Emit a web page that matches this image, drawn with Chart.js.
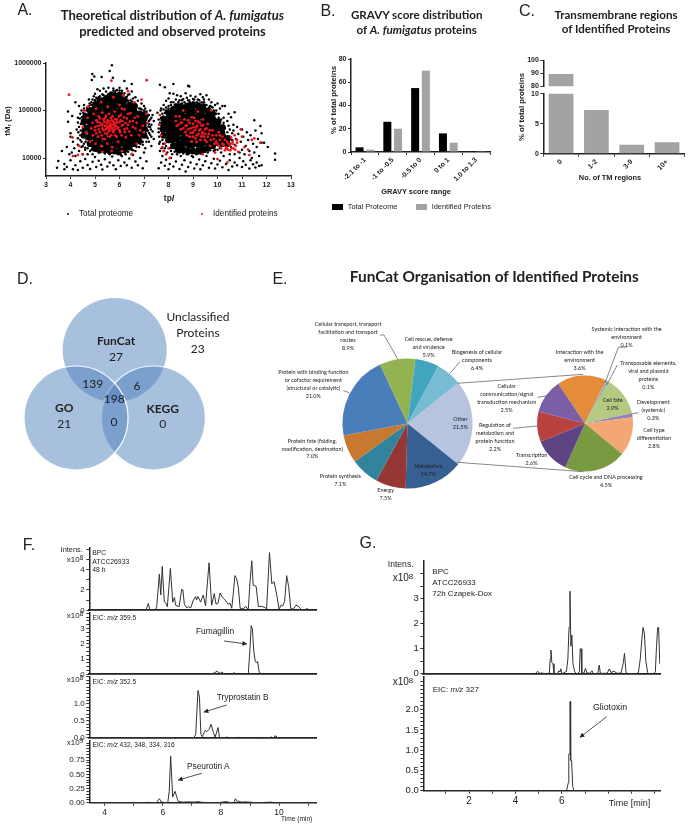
<!DOCTYPE html>
<html><head><meta charset="utf-8">
<script src="https://cdn.jsdelivr.net/npm/chart.js@4"></script>
<style>
html,body{margin:0;padding:0;background:#fff;overflow:hidden}
#page{position:relative;width:689px;height:827px;overflow:hidden;filter:blur(.4px)}
canvas{position:absolute}
.t{position:absolute;white-space:nowrap;transform:translate(-50%,-50%);color:#222;line-height:1}
.l{transform:translate(0,-50%)}
.r90{transform:translate(-50%,-50%) rotate(-90deg)}
sup{font-size:.8em;line-height:0;vertical-align:.3em}
sub{font-size:.7em;line-height:0;vertical-align:-.15em}
</style></head><body><div id="page"></div>
<script>
/* ---------- A: pI (isoelectric point) and Mr in kDa ---------- */
const identifiedProteins = [
[3.94,215],[7.11,435],[5.67,425],[4.08,27],[4.1,11],[4.3,11.5],[4.35,18],[4.5,12],[4.5,45],[4.55,100],[4.65,33],[4.7,70],[4.72,120],[4.8,22],[4.85,42],[4.9,55],[4.92,30],[4.95,85],[5,38],[5.02,20],[5.05,62],[5.05,110],[5.1,47],[5.12,28],[5.15,75],[5.2,35],[5.2,55],[5.25,150],[5.25,18],[5.3,42],[5.3,90],[5.32,25],[5.35,65],[5.4,48],[5.42,33],[5.45,40],[5.45,78],[5.48,55],[5.5,20],[5.5,44],[5.52,120],[5.55,36],[5.55,60],[5.58,47],[5.6,52],[5.6,28],[5.62,42],[5.65,70],[5.68,14],[5.7,50],[5.72,38],[5.75,58],[5.75,190],[5.8,46],[5.8,95],[5.82,30],[5.85,54],[5.9,65],[5.92,42],[5.95,22],[6,56],[6,130],[6.02,35],[6.05,80],[6.1,48],[6.12,60],[6.15,210],[6.2,40],[6.2,105],[6.25,27],[6.3,68],[6.35,255],[6.35,50],[6.4,36],[6.45,88],[6.5,12],[6.55,60],[6.6,150],[6.65,42],[6.7,20],[6.75,75],[6.85,38],[6.9,170],[7,35],[7.1,85],[7.15,55],
[7.62,50],[7.65,80],[7.7,30],[7.75,17],[7.8,14],[7.85,20],[7.9,12],[8,16],[8.05,10],[8.3,60],[8.4,50],[8.45,75],[8.5,40],[8.55,55],[8.6,100],[8.7,35],[8.75,48],[8.8,62],[8.85,28],[8.9,42],[8.95,22],[9,52],[9,34],[9.05,70],[9.1,26],[9.12,44],[9.15,30],[9.2,58],[9.2,95],[9.25,38],[9.3,24],[9.35,48],[9.38,32],[9.4,65],[9.45,28],[9.5,40],[9.55,22],[9.6,52],[9.65,32],[9.7,18],[9.75,100],[9.8,38],[9.85,25],[9.9,13],[9.95,30],[10,20],[10,9.5],[10.05,35],[10.1,24],[10.15,16],[10.2,28],[10.25,19],[10.3,14.5],[10.35,17],[10.4,22],[10.42,15],[10.5,18],[10.52,14.5],[10.55,27],[10.6,20],[10.65,16],[10.7,30],[10.75,18],[10.8,21],[10.85,13.5],[10.95,40],[11,28],[11.1,17],[11.25,15],[11.3,11.5],[11.4,24],[11.5,26],[11.75,21],[10.4,8],[9.4,12],[6.1,14],[5.7,17],[5.3,13.5],
[5,45],[5.05,33],[5.1,58],[5.15,40],[5.2,68],[5.22,48],[5.28,30],[5.3,52],[5.35,38],[5.38,58],[5.4,25],[5.42,70],[5.46,48],[5.5,32],[5.52,62],[5.55,42],[5.58,85],[5.6,38],[5.62,55],[5.65,48],[5.66,30],[5.68,62],[5.7,43],[5.72,75],[5.75,35],[5.78,52],[5.8,40],[5.82,66],[5.85,47],[5.88,28],[5.9,58],[5.95,44],[5.98,75],[6,38],[6.05,62],[6.08,30],[6.1,110],[6.15,50],[6.18,72],[6.22,35],[6.25,55],[6.3,42],[6.35,85],[6.42,58],[6.48,30],[6.55,45],[6.62,70],[6.7,55],[6.8,30],[6.95,48],
[8.5,55],[8.6,42],[8.65,65],[8.7,48],[8.75,30],[8.8,40],[8.85,55],[8.9,34],[8.95,72],[9,28],[9.02,44],[9.08,38],[9.1,60],[9.15,22],[9.18,48],[9.22,32],[9.28,55],[9.3,40],[9.35,28],[9.4,35],[9.42,50],[9.48,24],[9.5,32],[9.55,42],[9.6,28],[9.68,38],[9.72,24],[9.8,30],[9.88,20],[9.95,22],[10.05,18],[10.1,30],[10.2,20],[10.3,24],[10.38,16],[10.45,20],[10.58,16],[10.62,22],[10.72,15],[10.8,24],[8.3,75],[8.35,48]
];
const totalProteome = [
[5.69,895],[4.89,585],[4.97,520],[4.87,440],[5.27,510],[5.6,680],[5.73,490],[6.2,420],[6.5,360],[7.65,350],[7.85,310],[8.2,360],[8.8,330],[8.85,320],
[3.45,6.2],[3.5,8.7],[3.65,14],[3.75,5.8],[3.75,7.5],[3.85,6.5],[3.85,17],[3.9,58],[3.9,95],[3.95,12],[4,9],[4,28],[4,33],[4.05,13],[4.07,77],[4.1,22],[4.15,16],[4.2,150],[4.2,11],[4.25,40],[4.3,19],[4.3,70],[4.35,125],[4.35,14],[4.4,30],[4.4,24],[4.45,100],[4.5,12],[4.45,17],[4.5,55],[4.55,20],[4.55,130],[4.6,15],[4.6,85],[4.65,25],[4.7,12],[4.7,110],[4.75,170],[4.8,14],[4.85,130],[4.9,12],[4.9,170],[4.95,200],[5,225],[5.05,14],[5.1,150],[5.1,280],[5.15,190],[5.2,260],[5.2,13],[5.3,170],[5.3,220],[5.35,290],[5.4,12.5],[5.4,190],[5.45,250],[5.5,160],[5.55,210],[5.55,300],[5.6,12],[5.65,240],[5.7,180],[5.75,290],[5.8,220],[5.85,260],[5.9,190],[5.95,12],[6,240],[6,300],[6.05,200],[6.1,260],[6.15,170],[6.2,230],[6.25,12],[6.3,195],[6.3,290],[6.35,160],[6.4,220],[6.45,140],[6.5,250],[6.5,15],[6.55,180],[6.6,130],[6.65,14],[6.65,190],[6.7,120],[6.75,160],[6.8,17],[6.85,110],[6.9,140],[6.95,19],[7,100],[7,125],[7.05,16],[7.1,22],[7.15,26],[7.2,80],[7.2,60],[7.2,34],[7.25,45],[7.25,100],[7.3,28],[7.3,70],[7.3,18],
[4.1,5.8],[4.2,7],[4.3,5.6],[4.4,8.5],[4.5,6.2],[4.6,9.5],[4.7,7.1],[4.8,5.9],[4.9,8.3],[5,10.5],[5.05,6.5],[5.15,8.8],[5.25,7.2],[5.3,5.7],[5.4,9.4],[5.5,6.6],[5.6,8],[5.7,10.8],[5.75,7],[5.85,5.8],[5.95,9],[6.05,6.8],[6.1,11],[6.2,8],[6.3,7],[6.4,9.8],[6.5,6.2],[6.55,11.5],[6.65,8.4],[6.75,7],[6.85,10],[6.95,6.1],[7,13],[7.1,8.5],[7.6,6.1],[7.7,8],[7.75,11],[7.85,6.9],[7.9,9.2],[8,5.8],[8.05,7.5],[8.1,10],[8.2,6.6],[8.3,8.4],[8.35,12],[8.45,5.9],[8.55,7.2],[8.65,9],[8.7,5.2],[8.8,6.5],[8.9,8],[9,10.5],[9.05,6],[9.15,7.4],[9.25,9.3],[9.3,5.8],[9.4,7],[9.5,8.5],[9.55,11],[9.65,6.2],[9.75,7.8],[9.85,9.6],[9.9,6],[10,7.3],[10.1,8.8],[10.2,6.4],[10.25,11],[10.35,7.5],[10.45,5.6],[10.5,9],[10.6,6.6],[10.7,8],[10.8,7],[10.9,10],[11,6.5],[11.05,8.5],[11.15,7.2],[11.3,6],[11.35,9],[11.45,7.4],[11.55,6.3],[11.6,8],[11.7,6.8],[11.8,7],
[7.55,90],[7.6,35],[7.6,65],[7.62,20],[7.65,14],[7.7,110],[7.7,48],[7.75,24],[7.8,130],[7.8,75],[7.85,16],[7.9,160],[7.9,100],[7.95,13],[8,125],[8,180],[8.05,230],[8.1,150],[8.15,12],[8.2,225],[8.25,130],[8.3,170],[8.35,210],[8.4,120],[8.45,165],[8.5,11],[8.5,200],[8.55,140],[8.6,175],[8.65,120],[8.7,230],[8.75,12],[8.8,165],[8.85,140],[8.9,205],[8.95,11],[9,175],[9.05,145],[9.1,195],[9.15,12],[9.2,170],[9.25,140],[9.3,220],[9.35,12.5],[9.4,190],[9.45,150],[9.5,130],[9.55,210],[9.6,13],[9.65,170],[9.7,125],[9.75,150],[9.8,115],[9.85,14],[9.9,130],[9.95,100],[10,15],[10,140],[10.05,85],[10.1,110],[10.15,13],[10.2,125],[10.25,70],[10.3,125],[10.35,16],[10.4,60],[10.45,85],[10.5,40],[10.5,12],[10.55,72],[10.6,33],[10.65,50],[10.7,92],[10.7,12],[10.75,25],[10.8,45],[10.85,32],[10.9,13],[10.95,22],[11,40],[11,15],[11.05,28],[11.1,12],[11.15,18],[11.2,35],[11.25,24],[11.3,14],[11.35,30],[11.4,10],[11.45,20],[11.5,62],[11.5,13],[11.55,38],[11.6,17],[11.65,25],[11.7,11],[11.75,47],[11.8,21],[11.8,33],[11.9,21],[12.05,17],[12.35,12.5],[12.35,9.2],
[4.3,26],[4.32,35],[4.35,45],[4.3,56],[4.38,68],[4.4,85],[4.42,38],[4.45,22],[4.42,52],[4.48,28],[4.47,72],[4.5,18],[4.5,36],[4.52,90],[4.55,110],[4.6,16.5],[4.62,22],[4.65,100],[4.68,115],[4.7,16],[4.72,19],[4.75,125],[4.78,140],[4.85,15],[4.9,16],[4.85,150],[4.92,120],[4.95,14.5],
[5,165],[5.05,185],[5.1,175],[5.15,13],[5.2,200],[5.25,180],[5.3,140],[5.35,210],[5.4,175],[5.45,200],[5.5,14],[5.5,190],[5.55,170],[5.6,230],[5.65,13],[5.7,230],[5.7,155],[5.75,260],[5.8,240],[5.85,190],[5.9,270],[5.9,12.5],[5.95,230],[6,265],[6.05,11.5],[6.1,230],[6.1,185],[6.15,210],[6.2,13],[6.25,190],[6.3,165],[6.35,13.5],[6.35,215],[6.45,165],[6.5,155],[6.55,14.5],[6.55,135],[6.65,140],[6.7,17],[6.7,130],[6.8,110],[6.85,20],[6.9,105],[6.95,22],
[7.05,110],[7.1,95],[7.1,68],[7.12,28],[7.15,75],[7.15,38],[7.18,46],[7.2,22],[7.2,52],[7.25,31],[7.25,65],[7.28,40],[7.3,50],[7.35,36],[7.35,80],[7.4,60],[7.4,25],
[7.6,42],[7.62,28],[7.65,55],[7.65,22],[7.68,100],[7.7,38],[7.7,70],[7.72,16],[7.75,30],[7.75,85],[7.78,20],[7.8,105],[7.82,14],[7.85,90],[7.9,115],[7.9,18],[7.95,22],[8,110],[8.05,16],[8.1,130],[8.1,14],[8.15,115],[8.2,150],[8.25,13.5],[8.3,135],[8.35,110],[8.4,150],[8.45,13],[8.5,135],[8.55,165],[8.6,12.5],[8.65,150],[8.7,135],[8.75,185],[8.8,12],[8.85,160],[8.9,145],[8.95,13],[9,150],[9.05,170],[9.1,12.5],[9.15,150],[9.25,165],[9.3,12.5],[9.35,150],[9.45,170],[9.5,13.5],[9.55,130],[9.65,115],[9.7,14.5],[9.75,120],[9.85,100],[9.9,15],[9.95,85],[10.05,70],[10.1,16],[10.15,65],[10.25,55],[10.3,30],[10.3,42],[10.35,22],[10.4,35],[10.45,48],[10.5,28],[10.55,17],[10.6,24],[10.65,38],[10.7,19]
];
/* the almost solid middle of the two clouds */
const totalDenseFirst = [
[4.55,30],[4.6,42],[4.55,58],[4.62,75],[4.8,20],[4.78,27],[4.82,35],[4.8,46],[4.77,60],[4.82,78],[4.8,100],
[5,16],[5.02,21],[4.98,28],[5.03,36],[5,47],[4.97,62],[5.02,80],[5,105],[5.02,135],
[5.2,15],[5.18,20],[5.22,26],[5.2,34],[5.17,44],[5.22,57],[5.2,74],[5.18,96],[5.22,125],[5.2,155],
[5.4,15],[5.42,20],[5.38,26],[5.4,34],[5.43,44],[5.4,57],[5.38,74],[5.42,96],[5.4,125],[5.4,165],
[5.6,14],[5.58,19],[5.62,25],[5.6,33],[5.58,43],[5.62,56],[5.6,73],[5.58,95],[5.62,124],[5.6,160],[5.6,200],
[5.8,14],[5.82,19],[5.78,25],[5.8,33],[5.82,43],[5.78,56],[5.8,73],[5.82,95],[5.78,124],[5.8,160],[5.8,205],
[6,14],[5.98,19],[6.02,25],[6,33],[5.98,43],[6.02,56],[6,73],[5.98,95],[6.02,124],[6,160],[6,205],
[6.2,15],[6.22,20],[6.18,26],[6.2,34],[6.22,44],[6.18,57],[6.2,74],[6.22,96],[6.18,125],[6.2,165],
[6.4,17],[6.38,22],[6.42,28],[6.4,36],[6.38,46],[6.42,60],[6.4,78],[6.38,100],[6.42,130],
[6.6,20],[6.62,26],[6.58,34],[6.6,44],[6.62,57],[6.58,74],[6.6,96],[6.6,120],
[6.8,23],[6.78,30],[6.82,39],[6.8,50],[6.78,65],[6.82,85],
[7,30],[7.02,40],[6.98,52],[7,66],[7.02,82]
];
const totalDenseSecond = [
[7.8,30],[7.78,40],[7.82,52],[7.8,66],[8,24],[8.02,32],[7.98,42],[8,54],[8.02,70],[8,90],
[8.2,18],[8.18,24],[8.22,31],[8.2,40],[8.18,52],[8.22,68],[8.2,88],[8.2,105],
[8.4,15],[8.42,20],[8.38,26],[8.4,34],[8.42,44],[8.38,57],[8.4,74],[8.42,96],[8.4,120],
[8.6,15],[8.58,20],[8.62,26],[8.6,34],[8.58,44],[8.62,57],[8.6,74],[8.58,96],[8.6,115],
[8.8,14],[8.82,19],[8.78,25],[8.8,33],[8.82,43],[8.78,56],[8.8,73],[8.82,95],[8.8,125],
[9,14],[8.98,19],[9.02,25],[9,33],[8.98,43],[9.02,56],[9,73],[8.98,95],[9,125],
[9.2,14],[9.22,19],[9.18,25],[9.2,33],[9.22,43],[9.18,56],[9.2,73],[9.22,95],[9.2,125],
[9.4,15],[9.38,20],[9.42,26],[9.4,34],[9.38,44],[9.42,57],[9.4,74],[9.38,96],[9.4,120],
[9.6,16],[9.62,21],[9.58,27],[9.6,35],[9.62,45],[9.58,58],[9.6,75],[9.62,98],
[9.8,18],[9.78,23],[9.82,30],[9.8,39],[9.78,50],[9.82,65],[9.8,85],
[10,21],[10.02,27],[9.98,35],[10,45],[10.02,58],
[10.2,20],[10.22,26],[10.18,34],[10.2,44],
[10.4,20],[10.42,26]
];
const pIRange = [3, 13];
const pITicks = [3,4,5,6,7,8,9,10,11,12,13];
const massTicks = [10000,100000,1000000];

/* ---------- B ---------- */
const gravyRanges = ['-2.1 to -1','-1 to -0.5','-0.5 to 0','0 to 1','1.0 to 1.3'];
const gravyTotal = [4,26,55,16,0.3];
const gravyIdentified = [2,20,70,8,0.2];
const gravyTicks = [0,20,40,60,80];

/* ---------- C ---------- */
const tmRanges = ['0','1-2','3-9','10+'];
const tmPercent = [89.5,7.3,1.5,1.9];
const tmTicksUpper = [80,90,100];
const tmTicksLower = [0,5,10];

/* ---------- D: three equal circles, centres in radius units ---------- */
const vennSets = ['FunCat','KEGG','GO'];
const vennX = [0,0.744,-0.744];
const vennY = [0.654,-0.654,-0.654];

/* ---------- E ---------- */
const mainPieNames = ['Other','Metabolism','Energy','Protein synthesis','Protein fate','Binding function','Cellular transport','Cell rescue','Biogenesis'];
const mainPieValues = [21.5,14.7,7.5,7.1,7.0,21.0,8.9,5.9,6.4];
const mainPieColors = ['#b6c4e0','#376092','#953735','#31849b','#c8792f','#4a7ebb','#93b350','#41a5bf','#77bcd2'];
const otherPieNames = ['Interaction','Systemic','Transposable','Cell fate','Development','Cell type','Cell cycle','Transcription','Regulation','Communication'];
const otherPieValues = [3.6,0.1,0.1,2.9,0.3,2.8,4.5,2.6,2.2,2.5];
const otherPieColors = ['#e58c3b','#b0a0c4','#7ea6a0','#b3ca80','#9580b8','#f3a873','#7a9a42','#5f4485','#b8423e','#7b5fa6'];

/* ---------- F: minutes, intensity ---------- */
const fBpc = [[3.47,0],[5.42,0],[5.5,.68],[5.56,0],[5.73,0],[5.79,.35],[5.88,3.55],[5.93,1.5],[5.98,4.3],[6.05,.85],[6.1,.7],[6.155,.35],[6.26,4.1],[6.34,.8],[6.4,1.25],[6.44,.5],[6.56,.35],[6.65,2.05],[6.69,2],[6.74,.6],[6.82,.25],[6.88,.35],[6.96,.25],[7.05,1],[7.13,1.35],[7.16,1],[7.21,1.35],[7.3,.8],[7.39,1.5],[7.47,.45],[7.59,4.65],[7.68,.5],[7.77,1.65],[7.83,.6],[7.9,.7],[7.97,1.7],[8.04,1.3],[8.1,1.15],[8.2,.8],[8.25,.6],[8.31,.7],[8.37,.2],[8.42,1.5],[8.48,3.4],[8.54,3.1],[8.6,2.2],[8.66,.2],[8.77,.12],[8.85,.4],[8.94,.05],[9,2.8],[9.06,4.85],[9.11,2.45],[9.21,2.35],[9.29,.35],[9.4,.4],[9.52,.25],[9.57,.12],[9.67,5.65],[9.75,2.6],[9.83,2.8],[9.92,1.5],[10,.12],[10.07,.5],[10.12,.42],[10.19,.85],[10.26,3.4],[10.33,2.3],[10.4,.2],[10.49,.1],[10.58,.5],[10.66,.4],[10.78,.03],[10.9,.03],[10.96,.2],[11.02,0],[11.27,0]];
const fFumagillin = [[3.47,0],[7.24,0],[7.26,.03],[7.3,0],[7.58,0],[7.6,.03],[7.64,0],[7.72,.05],[7.8,.12],[7.86,.2],[7.92,.12],[7.98,.05],[8.02,.15],[8.08,.08],[8.12,0],[8.4,0],[8.43,.1],[8.5,.05],[8.55,0],[8.94,0],[9,1.7],[9.04,3.2],[9.08,3],[9.13,1.5],[9.18,.85],[9.22,.75],[9.26,.85],[9.31,.2],[9.37,0],[10.22,0],[10.25,.04],[10.3,0],[11.27,0]];
const fTryprostatin = [[3.47,0],[7.07,0],[7.13,.1],[7.21,1.4],[7.26,1.2],[7.31,.1],[7.36,.03],[7.42,.15],[7.46,.22],[7.51,.18],[7.6,.25],[7.66,.4],[7.74,.15],[7.8,.02],[7.9,.3],[7.95,0],[8.18,0],[8.2,.03],[8.23,0],[8.58,0],[8.6,.02],[8.63,0],[9.28,0],[9.3,.02],[9.33,0],[9.7,0],[9.72,.03],[9.76,0],[9.83,0],[9.85,.05],[9.9,.05],[9.93,0],[11.27,0]];
const fPseurotin = [[3.47,0],[5.45,0],[5.5,.01],[5.55,0],[5.78,0],[5.88,.07],[5.96,.01],[6.17,0],[6.22,.2],[6.27,.82],[6.34,.1],[6.42,.2],[6.53,.02],[6.7,.01],[6.85,.015],[7.1,.01],[7.2,.02],[7.3,.01],[7.5,0],[7.9,0],[8.2,.02],[8.3,0],[8.44,0],[8.5,.07],[8.56,.02],[8.6,.03],[8.7,.01],[8.85,.015],[9.2,0],[9.75,.01],[9.8,0],[11.27,0]];
const fTimeMajor = [4,6,8,10];
const fTimeTicks = [4,5,6,7,8,9,10,11];
const fMajor1 = [0,2,4], fMinor1 = [0,1,2,3,4,5,6];
const fMajor2 = [0,1,2,3], fMinor2 = [0,.25,.5,.75,1,1.25,1.5,1.75,2,2.25,2.5,2.75,3,3.25,3.5,3.75,4];
const fMajor3 = [0,.5,1], fMinor3 = [0,.1,.2,.3,.4,.5,.6,.7,.8,.9,1,1.1,1.2,1.3,1.4,1.5,1.6,1.7,1.8];
const fMajor4 = [0,.25,.5,.75], fMinor4 = [0,.05,.1,.15,.2,.25,.3,.35,.4,.45,.5,.55,.6,.65,.7,.75,.8,.85,.9,.95,1,1.05];

/* ---------- G ---------- */
const gBpc = [[.03,0],[4.85,0],[4.95,.1],[5.05,.02],[5.15,.03],[5.25,.01],[5.46,.02],[5.5,.6],[5.53,.95],[5.57,.45],[5.62,.4],[5.66,0],[5.82,.02],[5.87,.12],[5.92,.07],[5.96,.2],[6,0],[6.2,.1],[6.26,.6],[6.31,1.85],[6.35,3.3],[6.39,1.1],[6.43,1.55],[6.48,.4],[6.55,.1],[6.62,0],[6.7,.02],[6.76,.1],[6.79,1],[6.83,1],[6.86,.05],[6.95,.02],[7.02,.22],[7.08,.04],[7.2,.02],[7.3,.12],[7.36,.01],[7.55,.02],[7.61,.35],[7.66,.02],[7.95,.02],[8.05,.2],[8.12,.05],[8.25,.1],[8.38,.02],[8.55,.03],[8.65,.45],[8.7,.82],[8.76,.1],[8.8,0],[9.2,0],[9.3,.05],[9.38,.6],[9.46,1.5],[9.5,1.85],[9.56,1.6],[9.62,.5],[9.7,.05],[9.75,0],[9.95,0],[10.03,.08],[10.08,1.1],[10.13,1.85],[10.17,1.85],[10.22,.4]];
const gGliotoxin = [[.03,0],[6.2,0],[6.28,.2],[6.3,.9],[6.34,.9],[6.35,2.2],[6.37,2.2],[6.38,.75],[6.42,.75],[6.47,.1],[6.52,0],[10.23,0]];
const gTimeMajor = [2,4,6];
const gTimeTicks = [1,2,3,4,5,6,7,8,9,10];
const gMajor1 = [0,1,2,3], gMinor1 = [0,.5,1,1.5,2,2.5,3,3.5,4];
const gMajor2 = [0,.5,1,1.5,2], gMinor2 = [0,.1,.2,.3,.4,.5,.6,.7,.8,.9,1,1.1,1.2,1.3,1.4,1.5,1.6,1.7,1.8,1.9,2,2.1,2.2,2.3,2.4,2.5,2.6,2.7];

/* ---------- text, laid out on the page ---------- */
const LATO = 'Lato', SANS = '"Liberation Sans"';
const pageTexts = [
 ['A.',25,10,SANS,16],['B.',328,11,SANS,16],['C.',527,11,SANS,16],['D.',25,279,SANS,16],['E.',280,279,SANS,16],['F.',29,545,SANS,16],['G.',368,543,SANS,16],
 ['Theoretical distribution of <i>A. fumigatus</i>',172.5,15,LATO,13,700],['predicted and observed proteins',172.5,30.5,LATO,13,700],
 ['GRAVY score distribution',416.7,15,LATO,11.6,700],['of <i>A. fumigatus</i> proteins',416.7,30,LATO,11.6,700],
 ['Transmembrane regions',616,14.5,LATO,11.6,700],['of Identified Proteins',616,29,LATO,11.6,700],
 ['tp<i>I</i>',169,198,SANS,8.5,700],
 ['Total proteome',79,214,SANS,8.2,400,'l'],['Identified proteins',213,214,SANS,8.2,400,'l'],
 ['GRAVY score range',416,191.7,SANS,7.4,700],
 ['Total Proteome',347.7,206.5,SANS,7.4,400,'l'],['Identified Proteins',431.7,206.5,SANS,7.4,400,'l'],
 ['No. of TM regions',610,178.3,SANS,7.4,700],
 ['FunCat',116,340.7,LATO,12,700],['27',116,356.7,LATO,12],['Unclassified',198,317,LATO,12],['Proteins',198,333,LATO,12],['23',197.7,349,LATO,12],
 ['139',92.7,384.3,LATO,12],['6',137,385.7,LATO,12],['198',114.3,398.7,LATO,12],['GO',64.3,408,LATO,12,700],['21',64.3,424,LATO,12],['0',114,421.7,LATO,12],['KEGG',162.7,409.3,LATO,12,700],['0',162.7,424.3,LATO,12],
 ['FunCat Organisation of Identified Proteins',494.3,277.3,LATO,15.4,700],
 ['Intens.',71.7,550,SANS,7.4],['x10<sup>8</sup>',75,560,SANS,8],['BPC',92.3,552.7,SANS,6.8,400,'l'],['ATCC26933',92.3,561.7,SANS,6.8,400,'l'],['48 h',92.3,570.3,SANS,6.8,400,'l'],
 ['x10<sup>8</sup>',75,616,SANS,8],['EIC: <i>m/z</i> 359.5',92.5,618.3,SANS,6.6,400,'l'],
 ['x10<sup>8</sup>',75,680,SANS,8],['EIC: <i>m/z</i> 352.5',92.5,682,SANS,6.6,400,'l'],
 ['x10<sup>9</sup>',75,743.3,SANS,8],['EIC: <i>m/z</i> 432, 348, 334, 316',92.5,745,SANS,6.6,400,'l'],
 ['Fumagillin',215,631.3,SANS,8.4],['Tryprostatin B',242.7,696.7,SANS,8.4],['Pseurotin A',208.3,766,SANS,8.4],['Time (min)',296.7,819.3,SANS,6.6],
 ['Intens.',400.7,564.3,SANS,8.6],['x10<sup>8</sup>',403,578,SANS,10],['BPC',432.3,571.7,SANS,8,400,'l'],['ATCC26933',432.3,582.7,SANS,8,400,'l'],['72h Czapek-Dox',432.3,594.3,SANS,8,400,'l'],
 ['x10<sup>8</sup>',403,682.3,SANS,10],['EIC: <i>m/z</i> 327',432.7,690,SANS,8,400,'l'],['Gliotoxin',610,707,SANS,8.8],['Time [min]',608.7,803,SANS,9,400,'l']
];
const pieLabelGroups = [
 ['Cellular transport, transport|facilitation and transport|routes|8.9%',264,196],
 ['Cell rescue, defense|and virulence|5.9%',506,241],
 ['Biogenesis of cellular|components|6.4%',651,279],
 ['Protein with binding function|or cofactor requirement|(structural or catalytic)|21.0%',160,340],
 ['Protein fate (folding,|modification, destination)|7.0%',157,545],
 ['Protein synthesis|7.1%',241,652],['Energy|7.5%',377,693],['Other|21.5%',601,480],['Metabolism|14.7%',505,620],
 ['Systemic interaction with the|environment|0.1%',1100,211],['Interaction with the|environment|3.6%',959,279],
 ['Transposable elements,|viral and plasmid|proteins|0.1%',1165,312],['Cellular|communication/signal|transduction mechanism|2.5%',740,381],
 ['Cell fate|2.9%',1058,424],['Development|(systemic)|0.3%',1180,430],['Cell type|differentiation|2.8%',1182,514],
 ['Regulation of|metabolism and|protein function|2.2%',705,499],['Transcription|2.6%',815,587],['Cell cycle and DNA processing|4.5%',1038,654]
];
const leaders = [ /* page polylines for pie leaders and the two connectors */
 [[457.3,383.3],[583.3,374.3]],[[457.3,462.3],[583.3,471.7]],
 [[380,335],[384,335],[397.7,359]],[[460,361.7],[450,373.3]],[[343.3,390.7],[349.3,392.7]],
 [[627,347],[618.3,347.3],[605,383]],[[617.3,365],[606.7,385]],[[638.3,412.7],[631.7,414]],[[546.7,396],[537.3,397.3]],[[513.3,428.3],[537.3,426]]
];
const arrows = [
 [[224,641],[246.7,644]],[[226.7,705],[204,712]],[[201.7,773.3],[178.3,780]],[[606.7,716.7],[580,737.3]]
];

/* ---------- helpers ---------- */
const page = document.getElementById('page');
function put(rect,m,config){
  const L=Math.floor(rect.l-m.l),T=Math.floor(rect.t-m.t),W=Math.ceil(rect.r+m.r)-L,H=Math.ceil(rect.b+m.b)-T;
  const c=document.createElement('canvas');c.width=W;c.height=H;c.style.cssText=`left:${L}px;top:${T}px;width:${W}px;height:${H}px`;page.appendChild(c);
  const o=config.options=config.options||{};
  const hasAxes=o.scales&&o.scales.y&&o.scales.y.display!==false;
  o.responsive=false;o.animation=false;o.events=[];
  o.plugins=Object.assign({legend:{display:false},tooltip:{enabled:false}},o.plugins||{});
  o.layout={autoPadding:false,padding:{left:hasAxes?0:rect.l-L,top:rect.t-T,right:L+W-rect.r,bottom:hasAxes?0:T+H-rect.b}};
  if(hasAxes){o.scales.y.afterFit=s=>{s.width=rect.l-L};o.scales.x.afterFit=s=>{s.height=T+H-rect.b};}
  return new Chart(c,config);
}
const pts=a=>a.map(p=>({x:p[0],y:p[1]}));
const kDa=a=>a.map(p=>({x:p[0],y:p[1]*1000}));
const setTicks=list=>(s=>{s.ticks=list.map(v=>({value:v}))});
function axis(list,labelled,font,extra,decimals){
  return Object.assign({afterBuildTicks:setTicks(list),
    ticks:{autoSkip:false,maxRotation:0,minRotation:0,padding:1.5,color:'#222',font,callback:v=>labelled.some(u=>Math.abs(u-v)<1e-6)?(decimals?Number(v).toFixed(decimals):String(v)):''},
    grid:{drawOnChartArea:false,tickLength:3,tickWidth:1,tickColor:'#333'},border:{color:'#222',width:1.5}},extra||{});
}
function hiddenX(a,b){return {type:'linear',min:a,max:b,ticks:{display:false},grid:{drawOnChartArea:false,drawTicks:false},border:{color:'#222',width:1.8}};}
function trace(rect,data,xAxis,yAxis,lw){
  put(rect,{l:34,r:6,t:6,b:rect.mb||6},{type:'scatter',data:{datasets:[{data:pts(data),showLine:true,borderColor:'#333',borderWidth:lw||1,pointRadius:0,tension:0}]},options:{scales:{x:xAxis,y:yAxis}}});
}

/* ---------- A ---------- */
const tinyBold={family:SANS,size:7,weight:'700'};
put({l:46,r:291,t:63,b:176},{l:36,r:8,t:6,b:14},{type:'scatter',data:{datasets:[
 {label:'Identified proteins',data:kDa(identifiedProteins),pointRadius:1.4,pointBackgroundColor:'#ee1620',pointBorderWidth:0},
 {label:'Total proteome',data:kDa(totalProteome),pointRadius:1.25,pointBackgroundColor:'#000',pointBorderWidth:0},
 {label:'Total proteome (dense)',data:kDa(totalDenseFirst.concat(totalDenseSecond)),pointRadius:3.4,pointBackgroundColor:'#000',pointBorderWidth:0}
]},options:{scales:{
 x:axis(pITicks,pITicks,tinyBold,{type:'linear',min:pIRange[0],max:pIRange[1]}),
 y:axis(massTicks,massTicks,tinyBold,{type:'logarithmic',min:4180,max:1000000})
}}});

/* ---------- B ---------- */
put({l:351,r:490,t:59,b:152},{l:24,r:8,t:6,b:30},{type:'bar',data:{labels:gravyRanges,datasets:[
 {label:'Total Proteome',data:gravyTotal,backgroundColor:'#000',categoryPercentage:.77,barPercentage:.75},
 {label:'Identified Proteins',data:gravyIdentified,backgroundColor:'#a3a3a6',categoryPercentage:.77,barPercentage:.75}
]},options:{scales:{
 x:{ticks:{autoSkip:false,maxRotation:45,minRotation:45,padding:1,color:'#222',font:tinyBold},grid:{drawOnChartArea:false,tickLength:3,tickColor:'#333'},border:{color:'#222',width:1.5}},
 y:axis(gravyTicks,gravyTicks,tinyBold,{min:0,max:80})
}}});

/* ---------- C ---------- */
function tmChart(rect,m,ticks,lo,hi,showX){
 put(rect,m,{type:'bar',data:{labels:tmRanges,datasets:[{data:tmPercent,backgroundColor:'#a3a3a6',categoryPercentage:1,barPercentage:.7}]},options:{scales:{
  x:showX?{ticks:{autoSkip:false,maxRotation:45,minRotation:45,padding:1,color:'#222',font:tinyBold},grid:{drawOnChartArea:false,tickLength:3,tickColor:'#333'},border:{color:'#222',width:1.5}}
         :{ticks:{display:false},grid:{drawOnChartArea:false,drawTicks:false},border:{display:false}},
  y:axis(ticks,ticks,tinyBold,{min:lo,max:hi})
 }}});
}
tmChart({l:543.4,r:684.7,t:60.3,b:86.3},{l:24,r:4,t:6,b:6},tmTicksUpper,80,100,false);
tmChart({l:543.4,r:684.7,t:93.7,b:153.7},{l:24,r:4,t:6,b:16},tmTicksLower,0,10,true);

/* ---------- D ---------- */
put({l:10.7,r:218.7,t:280,b:488},{l:0,r:0,t:0,b:0},{type:'bubble',data:{datasets:[{
 data:vennSets.map((n,i)=>({x:vennX[i],y:vennY[i],r:52})),
 backgroundColor:'rgba(79,129,189,.5)',borderColor:['rgba(255,255,255,0)','rgba(255,255,255,.9)','rgba(255,255,255,.95)'],borderWidth:1.2,clip:false
}]},options:{scales:{x:{display:false,min:-2,max:2},y:{display:false,min:-2,max:2}}}});

/* ---------- E ---------- */
put({l:337,r:478,t:353,b:494},{l:0,r:0,t:0,b:0},{type:'pie',data:{labels:mainPieNames,datasets:[{data:mainPieValues,backgroundColor:mainPieColors,borderWidth:0}]},options:{rotation:51.3,radius:65}});
put({l:535,r:635,t:373,b:474},{l:0,r:0,t:0,b:0},{type:'pie',data:{labels:otherPieNames,datasets:[{data:otherPieValues,backgroundColor:otherPieColors,borderWidth:0}]},options:{rotation:-34,radius:48}});

/* ---------- F ---------- */
const fFont={family:SANS,size:8};
const fL=89.3,fR=316,fA=3.47,fB=11.27;
trace({l:fL,r:fR,t:547,b:610.3},fBpc,hiddenX(fA,fB),axis(fMinor1,fMajor1,fFont,{min:0,max:6.17}));
trace({l:fL,r:fR,t:612,b:674.3},fFumagillin,hiddenX(fA,fB),axis(fMinor2,fMajor2,fFont,{min:0,max:4.07}));
trace({l:fL,r:fR,t:676,b:738},fTryprostatin,hiddenX(fA,fB),axis(fMinor3,fMajor3,fFont,{min:0,max:1.82},1));
trace({l:fL,r:fR,t:740,b:802.7,mb:14},fPseurotin,axis(fTimeTicks,fTimeMajor,{family:SANS,size:8.5},{type:'linear',min:fA,max:fB}),axis(fMinor4,fMajor4,fFont,{min:0,max:1.1},2));

/* ---------- G ---------- */
const gFont={family:SANS,size:9.5};
const gL=423.3,gR=660,gA=.03,gB=10.23;
trace({l:gL,r:gR,t:560.7,b:675},gBpc,hiddenX(gA,gB),axis(gMinor1,gMajor1,gFont,{min:0,max:4.5}));
trace({l:gL,r:gR,t:676.7,b:790.7,mb:16},gGliotoxin,axis(gTimeTicks,gTimeMajor,{family:SANS,size:10},{type:'linear',min:gA,max:gB}),axis(gMinor2,gMajor2,gFont,{min:0,max:2.8},1));

/* ---------- overlay: leaders, arrows, legend keys ---------- */
const NS='http://www.w3.org/2000/svg';
const svg=document.createElementNS(NS,'svg');svg.setAttribute('width',689);svg.setAttribute('height',827);svg.style.cssText='position:absolute;left:0;top:0';
svg.innerHTML='<defs><marker id="ah" viewBox="0 0 10 10" refX="9" refY="5" markerWidth="7" markerHeight="6" orient="auto-start-reverse"><path d="M0 0L10 5L0 10z" fill="#222"/></marker></defs>';
leaders.forEach(p=>{const e=document.createElementNS(NS,'polyline');e.setAttribute('points',p.map(q=>q.join(',')).join(' '));e.setAttribute('fill','none');e.setAttribute('stroke','#555');e.setAttribute('stroke-width','.7');svg.appendChild(e);});
arrows.forEach(p=>{const e=document.createElementNS(NS,'line');e.setAttribute('x1',p[0][0]);e.setAttribute('y1',p[0][1]);e.setAttribute('x2',p[1][0]);e.setAttribute('y2',p[1][1]);e.setAttribute('stroke','#222');e.setAttribute('stroke-width','.8');e.setAttribute('marker-end','url(#ah)');svg.appendChild(e);});
page.appendChild(svg);
function key(x,y,w,h,color,round){const d=document.createElement('div');d.style.cssText=`position:absolute;left:${x}px;top:${y}px;width:${w}px;height:${h}px;background:${color};${round?'border-radius:50%':''}`;page.appendChild(d);}
key(66.8,212.8,2.4,2.4,'#000',1);key(200.5,212.8,2.6,2.6,'#e8141c',1);
key(331.7,204,11.5,6,'#000');key(415.7,204,11,6,'#a3a3a6');

/* ---------- text ---------- */
function text(s,x,y,fam,size,w,anchor,rot){
 const d=document.createElement('div');d.className='t'+(anchor==='l'?' l':'')+(rot?' r90':'');d.innerHTML=s;
 d.style.cssText=`left:${x}px;top:${y}px;font-family:${fam};font-size:${size}px;font-weight:${w||400}`;page.appendChild(d);
}
pageTexts.forEach(a=>text(a[0],a[1],a[2],a[3],a[4],a[5],a[6]));
text('tM<sub>r</sub> (Da)',8,121,SANS,8,700,null,true);
text('% of total proteins',334,100,SANS,7.8,700,null,true);
text('% of total proteins',522.3,107,SANS,7.8,700,null,true);
pieLabelGroups.forEach(g=>g[0].split('|').forEach((line,i)=>text(line,260+g[1]/3,260+(g[2]+i*23.6)/3,LATO,5.5)));
</script></body></html>
